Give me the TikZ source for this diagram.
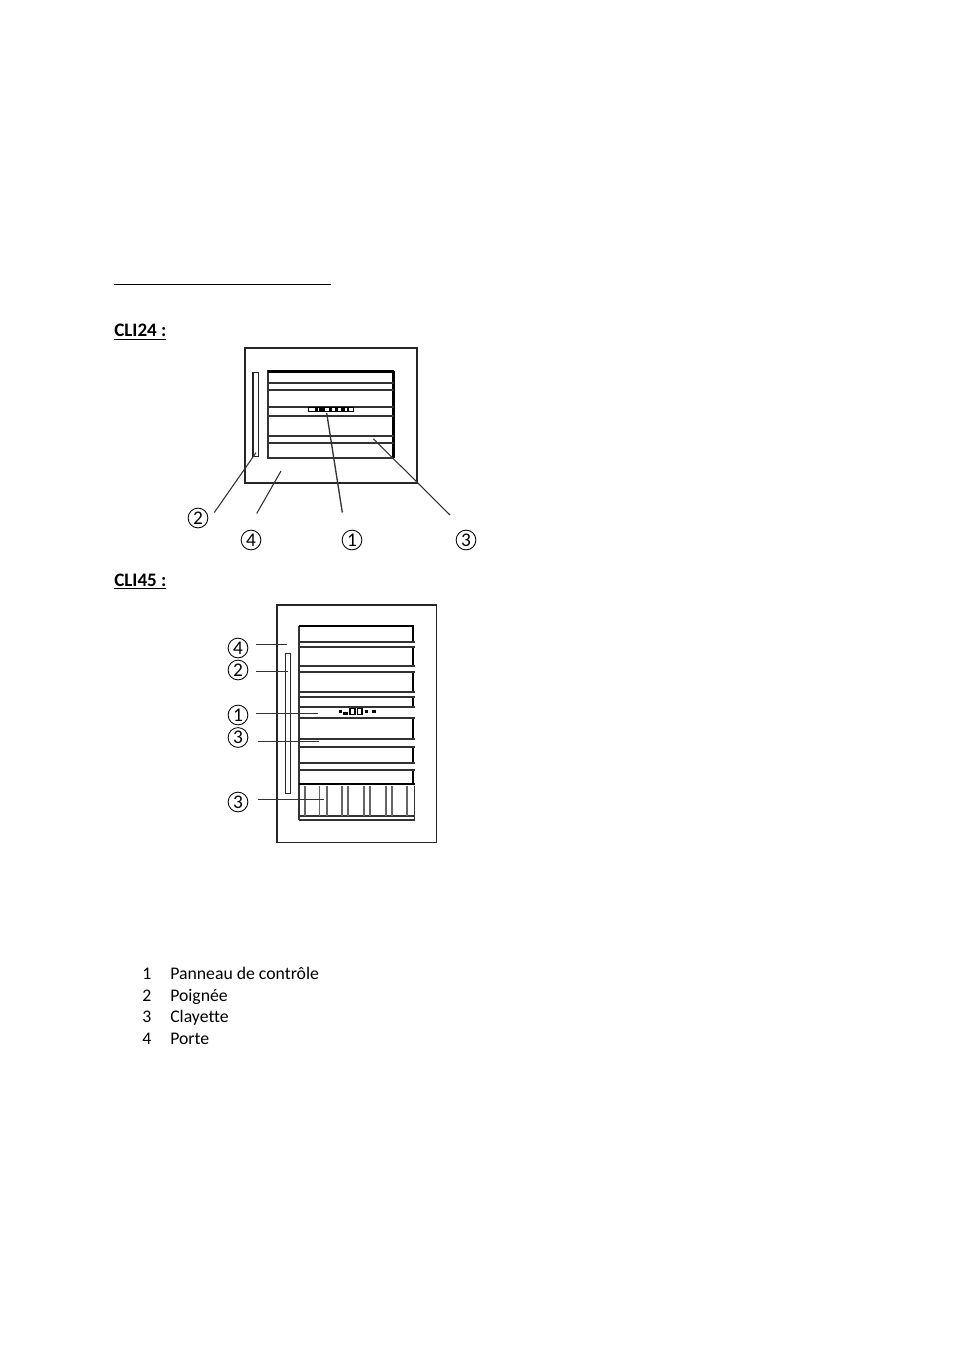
\documentclass[tikz,border=0pt]{standalone}
\usepackage{fontspec}
\setmainfont{Carlito}[Ligatures=NoCommon]
\newfontfamily\circfont{Carlito}
\tikzset{
 body/.style={draw=black!85,line width=1.05pt},
 thick part/.style={draw=black,line width=1.7pt},
 shelf/.style={draw=black!80,line width=1.2pt},
 slat/.style={draw=black!60,line width=1.2pt},
 leader/.style={draw=black!80,line width=0.8pt},
 num/.style={circle,draw=black,line width=0.65pt,inner sep=0pt,minimum size=14.8pt,font=\circfont\fontsize{14.5}{14.5}\selectfont},
 head/.style={inner sep=0pt,anchor=base west,font=\fontsize{14.3}{15}\selectfont\bfseries},
 item/.style={inner sep=0pt,anchor=base west,font=\fontsize{13.3}{15}\selectfont}
}
\begin{document}
\begin{tikzpicture}[x=0.75pt,y=-0.75pt]
\useasboundingbox (0,0) rectangle (954,1351);
\fill[white] (0,0) rectangle (954,1351);
% heading rule
\coordinate (ra) at (114,284.5); \coordinate (rb) at (331,284.5);
\draw[line width=0.6pt] (ra) -- (rb);
\node[head] (t24) at (114,337) {\underline{CLI24 :}};
\node[head] (t45) at (114,586) {\underline{CLI45 :}};
% ---- CLI24
\draw[body] (245,348) rectangle (417,483);
\draw[body] (253,372.5) rectangle (258.5,456.5);
\draw[shelf] (268,371) rectangle (393.5,458);
\draw[thick part] (268,371.5) -- (393.5,371.5);
\draw[thick part] (393.5,371) -- (393.5,458);
\foreach \y in {383,390,407,416,436,443}{\draw[shelf] (268,\y) -- (393.5,\y);}
\draw[draw=black,line width=0.8pt,fill=white] (308.5,407.3) rectangle (353.5,411.7);
\foreach \a/\b in {315/317.5,319/325,329/331.5,335/337.5,341/345,347/349}{\fill[black] (\a,407.5) rectangle (\b,411.5);}
\coordinate (a2) at (214.3,512.5); \coordinate (b2) at (256,452.7);
\coordinate (a4) at (256.7,513.5); \coordinate (b4) at (281,471);
\coordinate (a1) at (342.3,512.5); \coordinate (b1) at (326.7,413);
\coordinate (a3) at (450,515);     \coordinate (b3) at (373.3,438.7);
\draw[leader] (a2) -- (b2);
\draw[leader] (a4) -- (b4);
\draw[leader,line width=1pt] (a1) -- (b1);
\draw[leader] (a3) -- (b3);
\node[num] (n2) at (198,518) {2};
\node[num] (n4) at (251,540) {4};
\node[num] (n1) at (352,540) {1};
\node[num] (n3) at (466,540) {3};
% ---- CLI45
\draw[body] (277,604.8) rectangle (436.5,842.3);
\draw[body] (285.3,653.5) rectangle (290.7,793.5);
\draw[shelf] (298.8,626) -- (298.8,820.3);
\draw[thick part] (298.8,626.2) -- (414,626.2);
\foreach \a/\b in {626/642,647/666,672/692,697/707,718/739,747/763,770/783.5}{\draw[draw=black,line width=1.3pt] (413.2,\a) -- (413.2,\b);}
\foreach \y in {642,647,666,672,692,697,707,718,739,747,763,770,816,820}{\draw[shelf] (298.8,\y) -- (414.5,\y);}
\draw[thick part] (298.8,784.3) -- (414.5,784.3);
\draw[shelf] (414.5,786) -- (414.5,820.3);
\foreach \x in {304.7,319.3,326.7,341.7,347.7,364,370,385.7,392,406.7}{\draw[slat] (\x,786) -- (\x,815.7);}
% control-panel icons
\fill[black] (338.7,709.5) rectangle (341.7,713);
\fill[black] (343.3,712) rectangle (348,715);
\draw[line width=0.8pt,fill=white] (350,708.7) rectangle (355,714.5);
\draw[line width=0.8pt,fill=white] (357.5,708.7) rectangle (362,714.5);
\fill[black] (365,709.5) rectangle (367.7,713);
\fill[black] (372,709.5) rectangle (375.7,713);
\coordinate (c4a) at (256,644.5); \coordinate (c4b) at (287,644.5);
\coordinate (c2a) at (256,671.5); \coordinate (c2b) at (287.5,671.5);
\coordinate (c1a) at (256,713.5);   \coordinate (c1b) at (317.5,713.5);
\coordinate (c3a) at (257.7,741.5); \coordinate (c3b) at (319,741.5);
\coordinate (c5a) at (257.7,799.5); \coordinate (c5b) at (324,799.5);
\draw[leader] (c4a) -- (c4b);
\draw[leader] (c2a) -- (c2b);
\draw[leader] (c1a) -- (c1b);
\draw[leader] (c3a) -- (c3b);
\draw[leader] (c5a) -- (c5b);
\node[num] (m4) at (238,648) {4};
\node[num] (m2) at (238,670) {2};
\node[num] (m1) at (238,715) {1};
\node[num] (m3) at (238,737.5) {3};
\node[num] (m5) at (238,802) {3};
% ---- list
\node[item] (l1) at (142,979) {1};
\node[item] (l1t) at (170,979) {Panneau de contrôle};
\node[item] (l2) at (142,1001) {2};
\node[item] (l2t) at (170,1001) {Poignée};
\node[item] (l3) at (142,1022) {3};
\node[item] (l3t) at (170,1022) {Clayette};
\node[item] (l4) at (142,1044) {4};
\node[item] (l4t) at (170,1044) {Porte};
\end{tikzpicture}
\end{document}
